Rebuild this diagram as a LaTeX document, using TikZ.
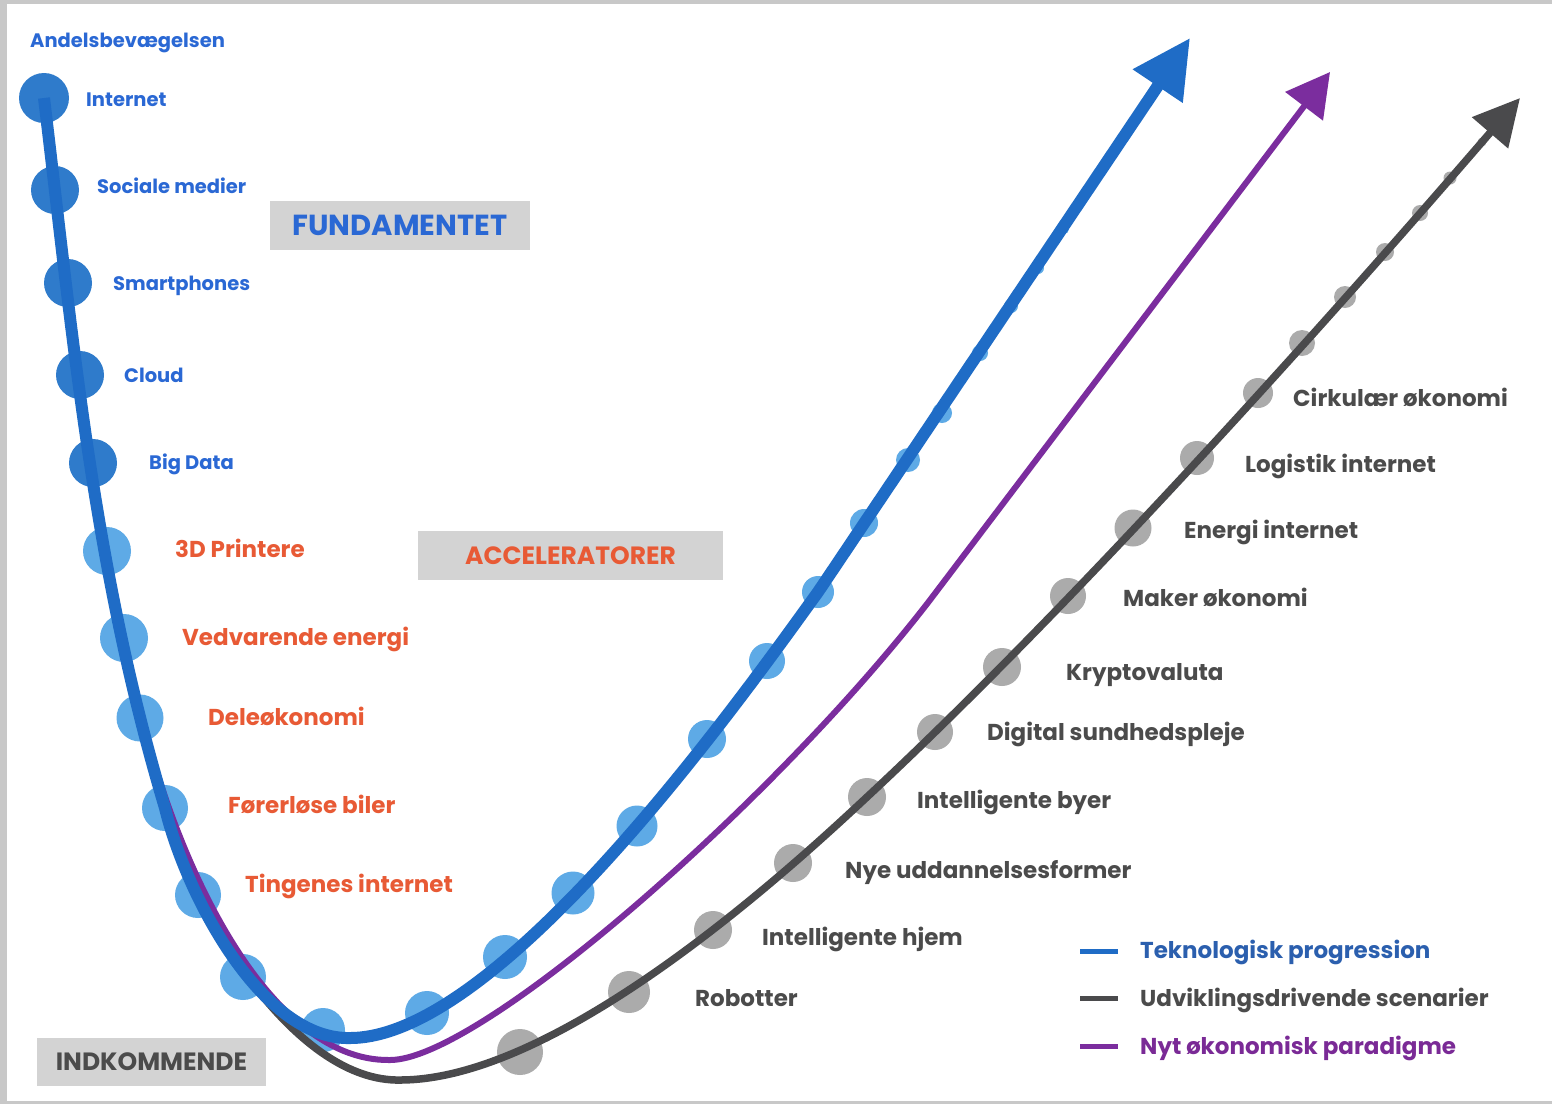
\documentclass[tikz,border=0pt]{standalone}
\usepackage{fontspec}
\setmainfont{Poppins}
\usetikzlibrary{arrows.meta}

\definecolor{tblue}{HTML}{1F6CC6}
\definecolor{dotdark}{HTML}{2F7BCB}
\definecolor{dotlight}{HTML}{5EAAE6}
\definecolor{tpurple}{HTML}{7B2D9E}
\definecolor{tgray}{HTML}{4A4A4C}
\definecolor{dotgray}{HTML}{ABABAB}
\definecolor{txtblue}{HTML}{2A68D4}
\definecolor{txtorange}{HTML}{E85A35}
\definecolor{txtgray}{HTML}{4B4B4B}
\definecolor{legblue}{HTML}{2B5FAE}
\definecolor{legpurple}{HTML}{7A2A96}
\definecolor{boxgray}{HTML}{D3D3D3}
\definecolor{framegray}{HTML}{C8C8C8}

\begin{document}
\begin{tikzpicture}[x=1pt, y=-1pt]
  \tikzstyle{ddot}=[circle, fill=dotdark, inner sep=0pt]
  \tikzstyle{ldot}=[circle, fill=dotlight, inner sep=0pt]
  \tikzstyle{gdot}=[circle, fill=dotgray, inner sep=0pt]
  \tikzstyle{lbl}=[anchor=west, inner sep=0pt, text height=16pt, text depth=0pt,
                   font=\bfseries\fontsize{23}{27}\selectfont]
  \tikzstyle{slbl}=[lbl, text height=14pt, font=\bfseries\fontsize{19.5}{24}\selectfont]
  \tikzstyle{box}=[fill=boxgray, inner sep=0pt, font=\bfseries\fontsize{25}{30}\selectfont]

  \useasboundingbox (0,0) rectangle (1552,1104);
  \fill[framegray] (0,0) rectangle (1552,1104);
  \fill[white] (7,4) rectangle (1552,1101);

  % blaa prikker
  \node[ddot, minimum size=50pt] (b1)  at (44,  98)  {};
  \node[ddot, minimum size=48pt] (b2)  at (55,  190) {};
  \node[ddot, minimum size=48pt] (b3)  at (68,  283) {};
  \node[ddot, minimum size=48pt] (b4)  at (80,  375) {};
  \node[ddot, minimum size=48pt] (b5)  at (93,  463) {};
  \node[ldot, minimum size=48pt] (b6)  at (107, 551) {};
  \node[ldot, minimum size=48pt] (b7)  at (124, 638) {};
  \node[ldot, minimum size=47pt] (b8)  at (140, 718) {};
  \node[ldot, minimum size=46pt] (b9)  at (165, 808) {};
  \node[ldot, minimum size=46pt] (b10) at (198, 895) {};
  \node[ldot, minimum size=46pt] (b11) at (243, 977) {};
  \node[ldot, minimum size=44pt] (b12) at (323, 1030) {};
  \node[ldot, minimum size=44pt] (b13) at (427, 1013) {};
  \node[ldot, minimum size=44pt] (b14) at (505, 957) {};
  \node[ldot, minimum size=43pt] (b15) at (573, 893) {};
  \node[ldot, minimum size=41pt] (b16) at (637, 826) {};
  \node[ldot, minimum size=38pt] (b17) at (707, 739) {};
  \node[ldot, minimum size=36pt] (b18) at (767, 661) {};
  \node[ldot, minimum size=32pt] (b19) at (818, 592) {};
  \node[ldot, minimum size=28pt] (b20) at (864, 523) {};
  \node[ldot, minimum size=24pt] (b21) at (908, 460) {};
  \node[ldot, minimum size=20pt] (b22) at (942, 413) {};
  \node[ldot, minimum size=16pt] (b23) at (980, 353) {};
  \node[ldot, minimum size=14pt] (b24) at (1011, 306) {};
  \node[ldot, minimum size=12pt] (b25) at (1038, 268) {};
  \node[ldot, minimum size=10pt] (b26) at (1064, 229) {};

  % graa prikker
  \node[gdot, minimum size=46pt] (g1)  at (520, 1052) {};
  \node[gdot, minimum size=42pt] (g2)  at (629, 992) {};
  \node[gdot, minimum size=38pt] (g3)  at (713, 930) {};
  \node[gdot, minimum size=38pt] (g4)  at (793, 863) {};
  \node[gdot, minimum size=38pt] (g5)  at (867, 797) {};
  \node[gdot, minimum size=36pt] (g6)  at (935, 732) {};
  \node[gdot, minimum size=38pt] (g7)  at (1002, 667) {};
  \node[gdot, minimum size=36pt] (g8)  at (1068, 596) {};
  \node[gdot, minimum size=37pt] (g9)  at (1133, 528) {};
  \node[gdot, minimum size=34pt] (g10) at (1197, 458) {};
  \node[gdot, minimum size=30pt] (g11) at (1258, 393) {};
  \node[gdot, minimum size=26pt] (g12) at (1302, 343) {};
  \node[gdot, minimum size=22pt] (g13) at (1345, 297) {};
  \node[gdot, minimum size=18pt] (g14) at (1385, 252) {};
  \node[gdot, minimum size=16pt] (g15) at (1420, 213) {};
  \node[gdot, minimum size=13pt] (g16) at (1450, 178) {};
  \node[gdot, minimum size=9pt]  (g17) at (1482, 142) {};

  \coordinate (gtip) at (1520, 98);
  \coordinate (ptip) at (1330, 72);
  \coordinate (btip) at (1190, 38);
  \coordinate (gbund) at (400, 1080);
  \coordinate (pbund) at (390, 1060);
  \coordinate (bbund) at (350, 1038);

  % kurverne
  \draw[tgray, line width=7.5pt, -{Triangle[length=46pt, width=46pt]}]
    (b9.center) .. controls (200,930) and (300,1082) .. (gbund)
    .. controls (560,1080) and (790,869) .. (g5.center)
    .. controls (1067,611) and (1320,330) .. (gtip);
  \draw[tpurple, line width=6pt, -{Triangle[length=43pt, width=46pt]}]
    (b7.center) .. controls (162,850) and (265,1062) .. (pbund)
    .. controls (480,1060) and (776,800) .. (930,600) -- (ptip);
  \draw[tblue, line width=12pt, -{Triangle[length=58pt, width=57pt]}]
    (b1.center) .. controls (73,338) and (93,568) .. (b9.center)
    .. controls (186,895) and (262,1040) .. (bbund)
    .. controls (500,1038) and (740,700) .. (b19.center) -- (btip);

  % fundamentet
  \node[slbl, text=txtblue] (andel)  at (30,  40)  {Andelsbevægelsen};
  \node[slbl, text=txtblue] (inter)  at (86,  99)  {Internet};
  \node[slbl, text=txtblue] (social) at (97,  186) {Sociale medier};
  \node[slbl, text=txtblue] (smart)  at (113, 283) {Smartphones};
  \node[slbl, text=txtblue] (cloud)  at (124, 375) {Cloud};
  \node[slbl, text=txtblue] (bigd)   at (149, 462) {Big Data};

  % acceleratorer
  \node[lbl, text=txtorange] (print) at (175, 549) {3D Printere};
  \node[lbl, text=txtorange] (vedv)  at (182, 637) {Vedvarende energi};
  \node[lbl, text=txtorange] (dele)  at (208, 717) {Deleøkonomi};
  \node[lbl, text=txtorange] (forer) at (228, 805) {Førerløse biler};
  \node[lbl, text=txtorange] (ting)  at (245, 884) {Tingenes internet};

  % scenarier
  \node[lbl, text=txtgray] (robot) at (695,  998) {Robotter};
  \node[lbl, text=txtgray] (ihjem) at (762,  937) {Intelligente hjem};
  \node[lbl, text=txtgray] (nye)   at (845,  870) {Nye uddannelsesformer};
  \node[lbl, text=txtgray] (ibyer) at (917,  800) {Intelligente byer};
  \node[lbl, text=txtgray] (digi)  at (987,  732) {Digital sundhedspleje};
  \node[lbl, text=txtgray] (krypt) at (1066, 672) {Kryptovaluta};
  \node[lbl, text=txtgray] (maker) at (1123, 598) {Maker økonomi};
  \node[lbl, text=txtgray] (energ) at (1184, 530) {Energi internet};
  \node[lbl, text=txtgray] (logis) at (1245, 464) {Logistik internet};
  \node[lbl, text=txtgray] (cirk)  at (1293, 398) {Cirkulær økonomi};

  % kasser
  \node[box, minimum width=260pt, minimum height=49pt, text=txtblue,
        font=\bfseries\fontsize{29}{34}\selectfont] (fund) at (400, 225.5) {FUNDAMENTET};
  \node[box, minimum width=305pt, minimum height=49pt, text=txtorange] (accel) at (570.5, 555.5) {ACCELERATORER};
  \node[box, minimum width=229pt, minimum height=48pt, text=txtgray] (indk) at (151.5, 1062) {INDKOMMENDE};

  % signaturforklaring
  \draw[tblue,   line width=5pt] (1080, 951) -- (1118, 951);
  \draw[tgray,   line width=5pt] (1080, 998) -- (1118, 998);
  \draw[tpurple, line width=5pt] (1080, 1046) -- (1118, 1046);
  \node[lbl, text=legblue]   (leg1) at (1140, 950)  {Teknologisk progression};
  \node[lbl, text=txtgray]   (leg2) at (1140, 998)  {Udviklingsdrivende scenarier};
  \node[lbl, text=legpurple] (leg3) at (1140, 1046) {Nyt økonomisk paradigme};

\end{tikzpicture}
\end{document}
